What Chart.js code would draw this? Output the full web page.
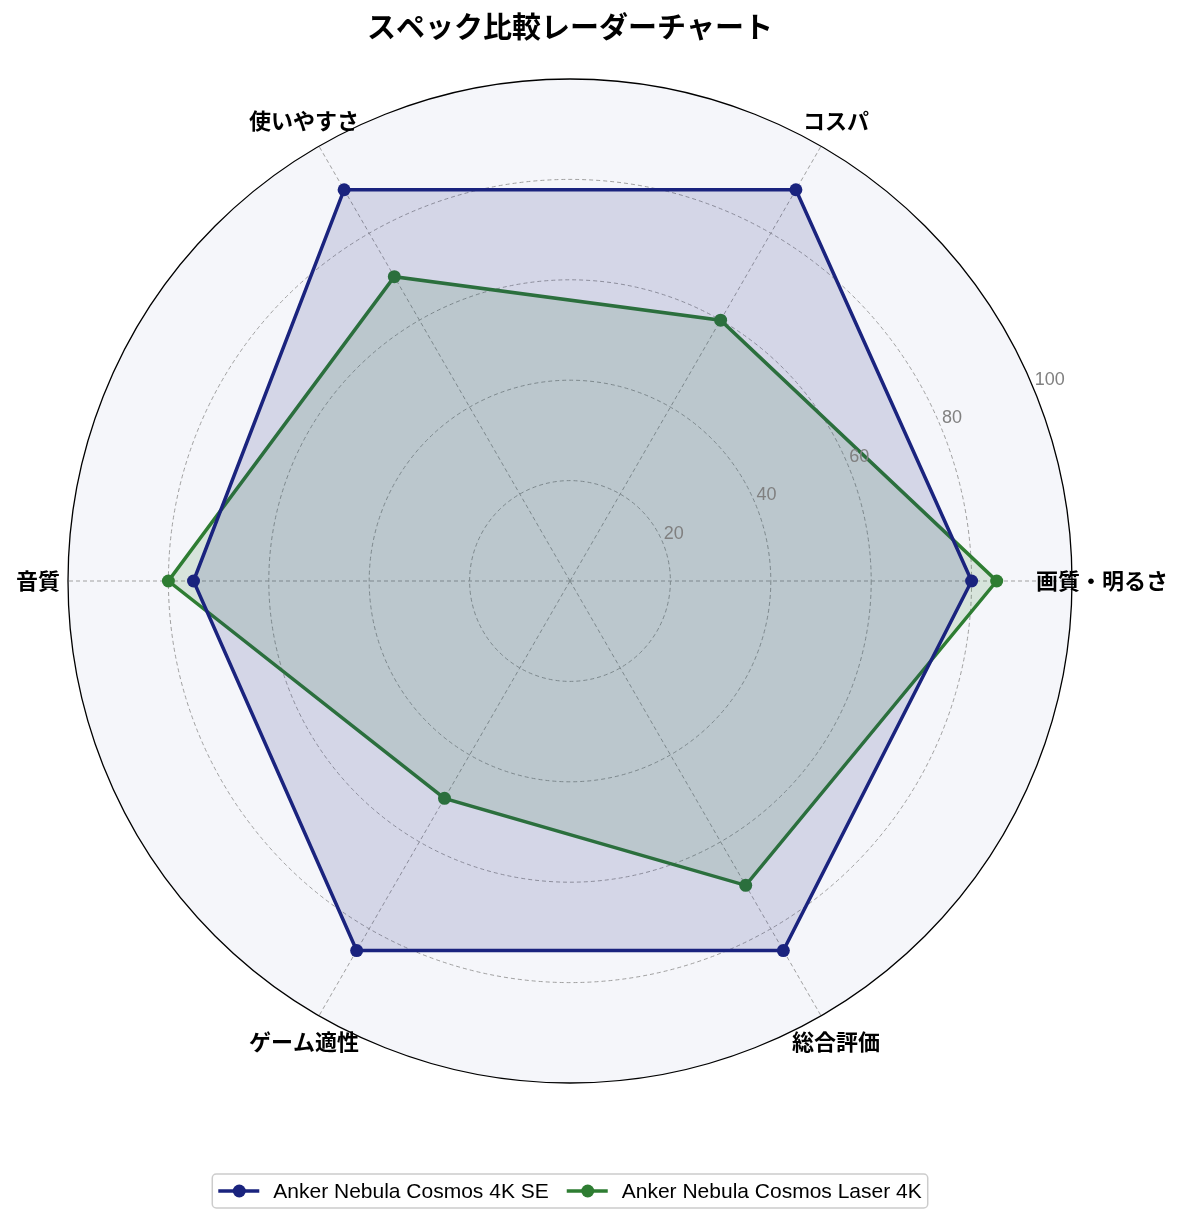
<!DOCTYPE html>
<html><head><meta charset="utf-8">
<script src="https://cdn.jsdelivr.net/npm/chart.js@4.4.0/dist/chart.umd.min.js"></script>
<style>html,body{margin:0;padding:0;background:#fff}#wrap{width:1185px;height:1223px;position:relative}</style>
</head><body><div id="wrap"><canvas id="c"></canvas></div>
<script>
const categories = ['画質・明るさ','コスパ','使いやすさ','音質','ゲーム適性','総合評価'];
const seriesNames = ['Anker Nebula Cosmos 4K SE','Anker Nebula Cosmos Laser 4K'];
const cosmos4kSE = [80, 90, 90, 75, 85, 85];
const cosmosLaser4K = [85, 60, 70, 80, 50, 70];
const tickValues = [20, 40, 60, 80, 100];
const titleText = 'スペック比較レーダーチャート';
const seriesColors = ['#1a237e', '#2e7d32'];
const seriesFills = ['rgba(26,35,126,0.15)', 'rgba(46,125,50,0.15)'];

// matplotlib goes counter-clockwise from the right; Chart.js goes clockwise
const order = [0, 5, 4, 3, 2, 1];
const reorder = arr => order.map(i => arr[i]);
const seriesValues = [cosmos4kSE, cosmosLaser4K];

const JP = '"Noto Sans CJK JP", "Liberation Sans", sans-serif';
const LAT = '"Liberation Sans", "Noto Sans CJK JP", sans-serif';

const polarPlugin = {
  id: 'polarExtras',
  beforeDraw(chart) {
    const s = chart.scales.r, ctx = chart.ctx;
    ctx.save();
    ctx.beginPath();
    ctx.arc(s.xCenter, s.yCenter, s.drawingArea, 0, Math.PI * 2);
    ctx.fillStyle = '#f5f6fa';
    ctx.fill();
    ctx.restore();
  },
  afterDraw(chart) {
    const s = chart.scales.r, ctx = chart.ctx;
    ctx.save();
    // radial tick labels at 22.5 degrees
    const a = 22.5 * Math.PI / 180;
    ctx.font = '18px ' + LAT;
    ctx.fillStyle = '#808080';
    ctx.textAlign = 'left';
    ctx.textBaseline = 'middle';
    tickValues.forEach(v => {
      const r = s.getDistanceFromCenterForValue(v);
      const x = s.xCenter + r * Math.cos(a);
      const y = s.yCenter - r * Math.sin(a);
      ctx.fillText(String(v), x + 1, y - 9);
    });
    // category labels
    ctx.font = 'bold 22px ' + JP;
    ctx.fillStyle = '#000';
    ctx.textAlign = 'center';
    ctx.textBaseline = 'middle';
    const lbls = chart.data.labels;
    lbls.forEach((l, i) => {
      const p = s.getPointPosition(i, s.drawingArea + 30);
      ctx.fillText(l, p.x, p.y);
    });
    // legend
    ctx.font = '21px ' + LAT;
    const itemW = seriesNames.map(n => 55 + ctx.measureText(n).width);
    const gap = 18;
    const total = itemW.reduce((a, b) => a + b, 0) + gap * (seriesNames.length - 1) + 12;
    const bx = s.xCenter - total / 2, by = 1174, bh = 34;
    ctx.beginPath();
    if (ctx.roundRect) ctx.roundRect(bx, by, total, bh, 4); else ctx.rect(bx, by, total, bh);
    ctx.fillStyle = 'rgba(255,255,255,0.8)';
    ctx.fill();
    ctx.strokeStyle = '#cccccc';
    ctx.lineWidth = 1.5;
    ctx.stroke();
    let x = bx + 6;
    const cy = by + bh / 2;
    seriesNames.forEach((n, i) => {
      ctx.strokeStyle = seriesColors[i];
      ctx.lineWidth = 3.5;
      ctx.beginPath();
      ctx.moveTo(x, cy); ctx.lineTo(x + 41, cy); ctx.stroke();
      ctx.beginPath();
      ctx.arc(x + 21, cy, 6.5, 0, Math.PI * 2);
      ctx.fillStyle = seriesColors[i];
      ctx.fill();
      ctx.fillStyle = '#000';
      ctx.textAlign = 'left';
      ctx.textBaseline = 'middle';
      ctx.fillText(n, x + 55, cy + 1);
      x += itemW[i] + gap;
    });
    ctx.restore();
  }
};

new Chart(document.getElementById('c'), {
  type: 'radar',
  data: {
    labels: reorder(categories),
    datasets: seriesNames.map((n, i) => ({
      label: n,
      data: reorder(seriesValues[i]),
      borderColor: seriesColors[i],
      backgroundColor: seriesFills[i],
      pointBackgroundColor: seriesColors[i],
      pointBorderColor: seriesColors[i],
      pointBorderWidth: 0,
      pointRadius: 6.5,
      borderWidth: 3.5,
      fill: true,
      tension: 0
    }))
  },
  options: {
    responsive: true,
    maintainAspectRatio: false,
    animation: false,
    devicePixelRatio: 1,
    layout: { padding: { left: 0, right: 45, top: 0, bottom: 140 } },
    plugins: {
      legend: { display: false },
      tooltip: { enabled: false },
      title: {
        display: true,
        text: titleText,
        font: { family: JP, size: 29, weight: 'bold' },
        color: '#000',
        padding: { top: 10, bottom: 34.2 }
      }
    },
    scales: {
      r: {
        min: 0, max: 100,
        startAngle: 90,
        ticks: { display: false, stepSize: 20 },
        pointLabels: { display: false },
        grid: {
          circular: true,
          color: c => (c.tick && c.tick.value === 100) ? '#000000' : '#a0a0a0',
          lineWidth: c => (c.tick && c.tick.value === 100) ? 1.3 : 1
        },
        border: { dash: c => (c.tick && c.tick.value === 100) ? [] : [4, 3] },
        angleLines: { color: '#a0a0a0', lineWidth: 1, borderDash: [4, 3] }
      }
    }
  },
  plugins: [polarPlugin]
});
</script>
</body></html>
